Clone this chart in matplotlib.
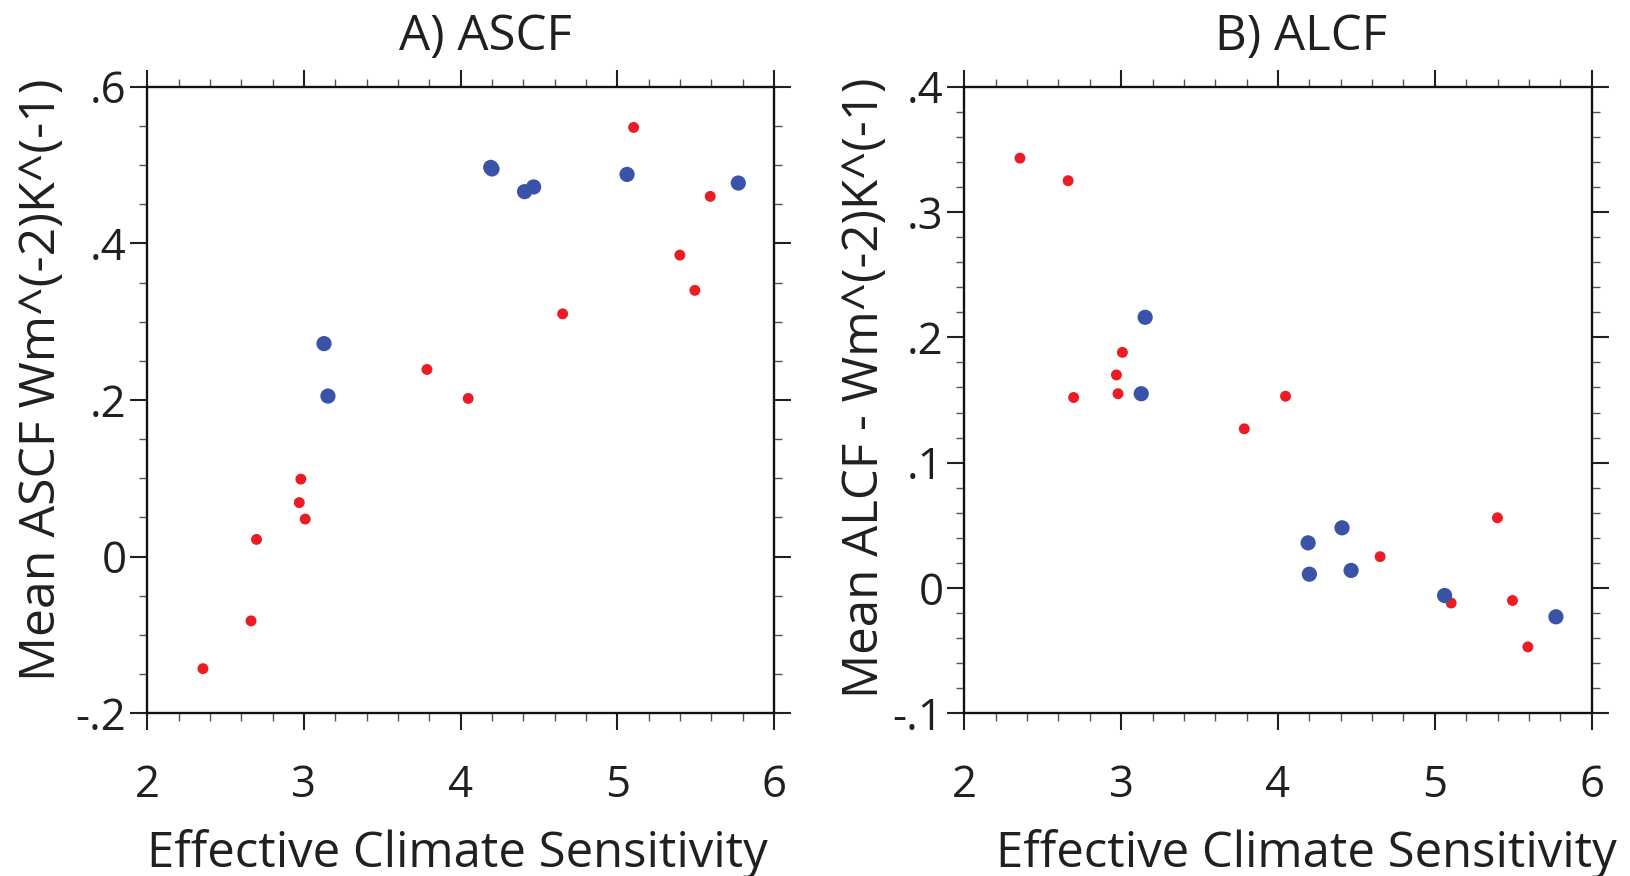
import matplotlib
matplotlib.use("Agg")
import matplotlib.pyplot as plt
from matplotlib.ticker import MultipleLocator

plt.rcParams['font.family'] = ['Open Sans', 'DejaVu Sans']

# ---- data ----
red_ecs  = [2.355, 2.662, 2.697, 2.970, 2.980, 3.008, 3.785, 4.048, 4.651, 5.104, 5.399, 5.495, 5.593]
red_ascf = [-0.143, -0.082, 0.022, 0.069, 0.099, 0.048, 0.239, 0.202, 0.310, 0.548, 0.385, 0.340, 0.460]
red_alcf = [0.343, 0.325, 0.152, 0.170, 0.155, 0.188, 0.127, 0.153, 0.025, -0.012, 0.056, -0.010, -0.047]

blue_ecs  = [3.128, 3.153, 4.192, 4.200, 4.408, 4.466, 5.062, 5.772]
blue_ascf = [0.272, 0.205, 0.497, 0.495, 0.466, 0.472, 0.488, 0.477]
blue_alcf = [0.155, 0.216, 0.036, 0.011, 0.048, 0.014, -0.006, -0.023]

xticks = [2, 3, 4, 5, 6]
xticklabels = ['2', '3', '4', '5', '6']
yticks_a = [-0.2, 0.0, 0.2, 0.4, 0.6]
yticklabels_a = ['-.2', '0', '.2', '.4', '.6']
yticks_b = [-0.1, 0.0, 0.1, 0.2, 0.3, 0.4]
yticklabels_b = ['-.1', '0', '.1', '.2', '.3', '.4']

titles = ['A) ASCF', 'B) ALCF']
ylabels = ['Mean ASCF Wm^(-2)K^(-1)', 'Mean ALCF - Wm^(-2)K^(-1)']
xlabel = 'Effective Climate Sensitivity'

RED = '#ec1c24'
BLUE = '#3953a8'

W, H = 1631, 876
fig = plt.figure(figsize=(W / 100, H / 100), dpi=100)

def px_axes(left, top, right, bottom):
    return fig.add_axes([left / W, (H - bottom) / H, (right - left) / W, (bottom - top) / H])

axA = px_axes(147.3, 86.7, 774.0, 713.3)
axB = px_axes(964.3, 86.7, 1591.7, 713.3)

panels = [
    (axA, red_ascf, blue_ascf, yticks_a, yticklabels_a, (-0.2, 0.6), 0.05, 0.533, -0.128, 0.54, 0.495, 36),
    (axB, red_alcf, blue_alcf, yticks_b, yticklabels_b, (-0.1, 0.4), 0.02, 0.519, -0.118, 0.537, 0.545, 35.5),
]

for i, (ax, ry, by, yt, ytl, ylim, yminor, ylab_y, ylab_x, title_x, xlab_x, ylfs) in enumerate(panels):
    ax.scatter(red_ecs, ry, s=62, color=RED, edgecolors='none', zorder=3)
    ax.scatter(blue_ecs, by, s=120, color=BLUE, edgecolors='none', zorder=3)
    ax.set_xlim(2, 6)
    ax.set_ylim(*ylim)
    ax.set_xticks(xticks)
    ax.set_xticklabels(xticklabels)
    ax.set_yticks(yt)
    ax.set_yticklabels(ytl)
    ax.xaxis.set_minor_locator(MultipleLocator(0.2))
    ax.yaxis.set_minor_locator(MultipleLocator(yminor))
    ax.tick_params(which='both', direction='out', top=True, right=True,
                   labelsize=31.5, colors='#231f20')
    ax.tick_params(which='major', length=12, width=1.5)
    ax.tick_params(which='minor', length=6, width=1.0, color='#555555')
    ax.tick_params(axis='x', which='major', pad=24)
    ax.tick_params(axis='y', which='major', pad=3)
    for sp in ax.spines.values():
        sp.set_linewidth(1.7)
        sp.set_color('#111111')
    ax.text(title_x, 1.0584, titles[i], transform=ax.transAxes, ha='center',
            va='baseline', fontsize=35.5, color='#231f20')
    ax.text(xlab_x, -0.2453, xlabel, transform=ax.transAxes, ha='center',
            va='baseline', fontsize=35.3, color='#231f20')
    ax.set_ylabel(ylabels[i], fontsize=ylfs, color='#231f20')
    ax.yaxis.set_label_coords(ylab_x, ylab_y)

fig.savefig('out.png', dpi=100)
